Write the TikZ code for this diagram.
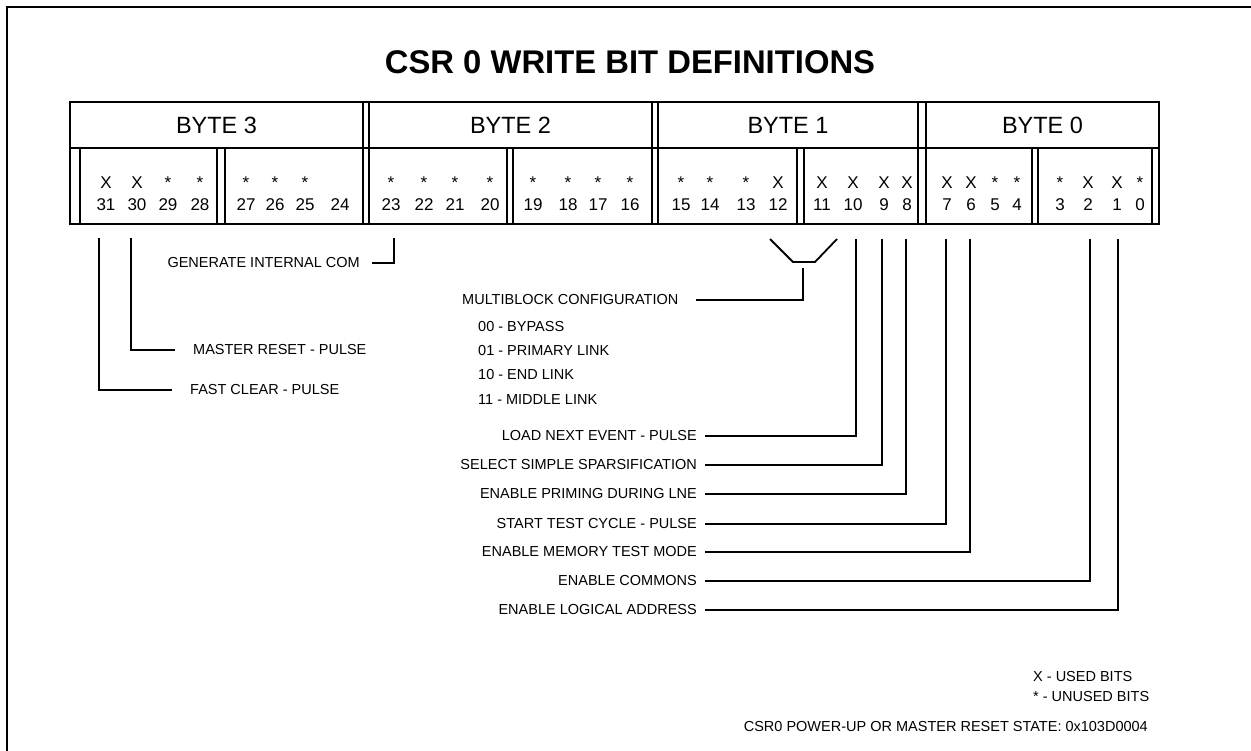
\documentclass[tikz,border=0pt]{standalone}
\usepackage{fontspec}
\setmainfont{Liberation Sans}
\begin{document}
\begin{tikzpicture}[x=1pt,y=-1pt,
  tline/.style={line width=1.8pt},
  conn/.style={line width=1.8pt},
  lbl/.style={font=\fontsize{14.5}{17}\selectfont, inner sep=0pt},
  bitn/.style={font=\fontsize{17}{20}\selectfont, inner sep=0pt, anchor=base},
  bytelbl/.style={font=\fontsize{23.5}{27}\selectfont, inner sep=0pt}
]
\useasboundingbox (0,0) rectangle (1251,751);
% frame
\draw[line width=2.5pt] (7,770) -- (7,7) -- (1270,7);
% title
\node[font=\bfseries\fontsize{32.8}{38}\selectfont, inner sep=0pt] (title) at (630,62) {CSR 0 WRITE BIT DEFINITIONS};
% table
\draw[tline] (70,102) rectangle (1159,224);
\draw[tline] (70,148) -- (1159,148);
\foreach \x in {363,369,652,658,918,926} \draw[tline] (\x,102) -- (\x,224);
\foreach \x in {80,217,225,507,513,797,804,1032,1038,1152} \draw[tline] (\x,148) -- (\x,224);
\node[bytelbl] (by3) at (216.5,125) {BYTE 3};
\node[bytelbl] (by2) at (510.5,125) {BYTE 2};
\node[bytelbl] (by1) at (788,125) {BYTE 1};
\node[bytelbl] (by0) at (1042.5,125) {BYTE 0};
% bits
\foreach \n/\x/\m in {31/106/X,30/137/X,29/168/*,28/200/*,27/246/*,26/275/*,25/305/*,24/340/{},
  23/391/*,22/424/*,21/455/*,20/490/*,19/533/*,18/568/*,17/598/*,16/630/*,
  15/681/*,14/710/*,13/746/*,12/778/X,11/822/X,10/853/X,9/884/X,8/907/X,
  7/947/X,6/971/X,5/995/*,4/1017/*,3/1060/*,2/1088/X,1/1117/X,0/1140/*}{
  \node[bitn] (m\n) at (\x,189) {\m};
  \node[bitn] (b\n) at (\x,211) {\n};
}
% connector tops
\coordinate (t31) at (99,238);
\coordinate (t30) at (131,238);
\coordinate (t23) at (394,238);
\coordinate (t10) at (856,239);
\coordinate (t9) at (882,239);
\coordinate (t8) at (906,239);
\coordinate (t7) at (946,239);
\coordinate (t6) at (970,239);
\coordinate (t2) at (1090,239);
\coordinate (t1) at (1118,239);
% left labels
\node[lbl, anchor=east] (gic) at (360,263) {GENERATE INTERNAL COM};
\draw[conn] (t23) |- ([xshift=12pt]gic.east);
\node[lbl, anchor=west] (mrp) at (193,350) {MASTER RESET - PULSE};
\draw[conn] (t30) |- ([xshift=-18pt]mrp.west);
\node[lbl, anchor=west] (fcp) at (190,390) {FAST CLEAR - PULSE};
\draw[conn] (t31) |- ([xshift=-18pt]fcp.west);
% multiblock
\node[lbl, anchor=west] (mbc) at (462,300) {MULTIBLOCK CONFIGURATION};
\coordinate (bl) at (770,239);
\coordinate (br) at (837,239);
\coordinate (bb) at (803,268);
\draw[conn] (bl) -- (793,262) -- (815,262) -- (br);
\draw[conn] (bb) |- ([xshift=17pt]mbc.east);
\node[lbl, anchor=west] (o0) at (478,327) {00 - BYPASS};
\node[lbl, anchor=west] (o1) at (478,351) {01 - PRIMARY LINK};
\node[lbl, anchor=west] (o2) at (478,375) {10 - END LINK};
\node[lbl, anchor=west] (o3) at (478,400) {11 - MIDDLE LINK};
% right-aligned labels
\foreach \nm/\y/\t/\txt in {lne/436/t10/LOAD NEXT EVENT - PULSE,
  sss/465/t9/SELECT SIMPLE SPARSIFICATION,
  epd/494/t8/ENABLE PRIMING DURING LNE,
  stc/524/t7/START TEST CYCLE - PULSE,
  emt/552/t6/ENABLE MEMORY TEST MODE,
  ec/581/t2/ENABLE COMMONS,
  ela/610/t1/ENABLE LOGICAL ADDRESS}{
  \node[lbl, anchor=east] (\nm) at (697,\y) {\txt};
  \draw[conn] (\t) |- ([xshift=8pt]\nm.east);
}
% footnotes
\node[lbl, anchor=west] (ub) at (1033,677) {X - USED BITS};
\node[lbl, anchor=west] (nb) at (1033,697) {* - UNUSED BITS};
\node[lbl, anchor=east] (ps) at (1148,727) {CSR0 POWER-UP OR MASTER RESET STATE: 0x103D0004};
\end{tikzpicture}
\end{document}
